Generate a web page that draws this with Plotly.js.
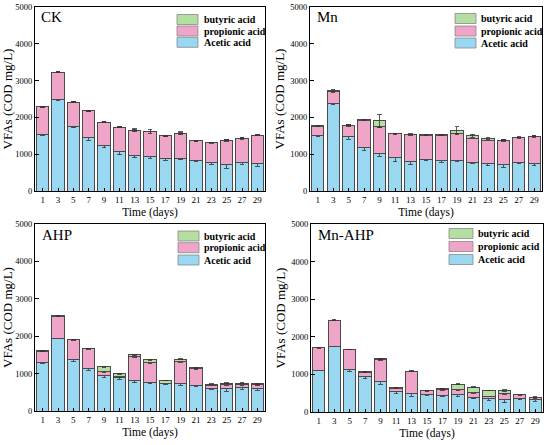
<!DOCTYPE html>
<html>
<head>
<meta charset="utf-8">
<script src="https://cdn.plot.ly/plotly-3.0.1.min.js"></script>
<style>
html,body{margin:0;padding:0;background:#fff;}
#chart{width:550px;height:445px;}
</style>
</head>
<body>
<div id="chart"></div>
<script>
// ---------- data ----------
const days = [1, 3, 5, 7, 9, 11, 13, 15, 17, 19, 21, 23, 25, 27, 29];
const seriesNames = ["Acetic acid", "propionic acid", "butyric acid"];
const panelNames = ["CK", "Mn", "AHP", "Mn-AHP"];
const yTicks = [0, 1000, 2000, 3000, 4000, 5000];

const ckAcetic    = [1540, 2490, 1765, 1455, 1240, 1070, 968, 927, 870, 895, 822, 773, 722, 766, 740];
const ckPropionic = [745, 735, 650, 728, 632, 665, 687, 688, 630, 678, 540, 543, 656, 666, 780];
const ckButyric   = [0, 0, 0, 0, 0, 0, 0, 0, 0, 0, 0, 0, 0, 0, 0];
const ckAceticErr    = [20, 20, 40, 70, 60, 90, 70, 40, 40, 40, 25, 50, 100, 40, 70];
const ckPropionicErr = [15, 10, 20, 15, 20, 20, 40, 60, 20, 40, 20, 15, 20, 25, 20];
const ckButyricErr   = [10, 10, 10, 10, 10, 10, 10, 10, 10, 10, 10, 10, 10, 10, 10];

const mnAcetic    = [1500, 2370, 1490, 1190, 1030, 900, 810, 860, 820, 840, 780, 740, 720, 770, 740];
const mnPropionic = [260, 340, 280, 730, 715, 650, 720, 660, 695, 710, 660, 640, 650, 680, 740];
const mnButyric   = [10, 20, 15, 10, 160, 10, 10, 10, 10, 100, 60, 50, 10, 10, 10];
const mnAceticErr    = [30, 20, 80, 80, 80, 100, 100, 40, 40, 30, 30, 50, 80, 30, 60];
const mnPropionicErr = [15, 20, 30, 15, 30, 20, 15, 20, 20, 20, 20, 20, 20, 15, 20];
const mnButyricErr   = [10, 15, 10, 10, 180, 10, 10, 10, 10, 100, 40, 20, 10, 10, 10];

const ahpAcetic    = [1300, 1946, 1366, 1125, 958, 893, 813, 750, 723, 723, 670, 607, 589, 616, 589];
const ahpPropionic = [298, 590, 536, 536, 87, 27, 633, 536, 18, 598, 455, 81, 116, 80, 107];
const ahpButyric   = [10, 10, 10, 10, 134, 71, 54, 80, 72, 63, 36, 26, 36, 45, 36];
const ahpAceticErr    = [20, 20, 30, 40, 60, 40, 60, 20, 20, 30, 20, 30, 60, 30, 40];
const ahpPropionicErr = [15, 15, 15, 15, 20, 15, 20, 20, 10, 20, 20, 15, 15, 15, 15];
const ahpButyricErr   = [10, 10, 10, 10, 15, 10, 20, 15, 10, 15, 15, 10, 10, 15, 10];

const mnahpAcetic    = [1116, 1750, 1125, 946, 804, 545, 482, 473, 446, 455, 393, 348, 330, 357, 321];
const mnahpPropionic = [589, 696, 536, 108, 589, 89, 607, 90, 152, 134, 125, 72, 161, 98, 54];
const mnahpButyric   = [0, 0, 0, 17, 18, 9, 0, 8, 18, 152, 143, 151, 80, 9, 18];
const mnahpAceticErr    = [20, 20, 40, 60, 70, 40, 60, 30, 40, 40, 40, 40, 80, 30, 40];
const mnahpPropionicErr = [15, 15, 10, 15, 20, 10, 25, 10, 15, 15, 15, 10, 15, 10, 10];
const mnahpButyricErr   = [0, 0, 0, 10, 15, 10, 0, 5, 10, 10, 10, 10, 15, 10, 10];

// ---------- styling ----------
const colors = ["#9ad8f2", "#efa5c7", "#b5dea2"];
const edge = "#4a4a4a";
const serif = "Liberation Serif";
const W = 550, H = 445;

// panel pixel geometry [left, right, top, bottom]
const panels = [
  {vals: [ckAcetic, ckPropionic, ckButyric], errs: [ckAceticErr, ckPropionicErr, ckButyricErr], px: [35, 265, 7, 191], leg: [142, 163, 167, 12.5, 24, 35.3], lab: [4, 10]},
  {vals: [mnAcetic, mnPropionic, mnButyric], errs: [mnAceticErr, mnPropionicErr, mnButyricErr], px: [310, 542, 7, 191], leg: [145, 166, 169, 11.5, 24, 36], lab: [5, 10]},
  {vals: [ahpAcetic, ahpPropionic, ahpButyric], errs: [ahpAceticErr, ahpPropionicErr, ahpButyricErr], px: [35, 265, 224, 411], leg: [143, 164, 167, 12, 23.7, 36], lab: [5, 11]},
  {vals: [mnahpAcetic, mnahpPropionic, mnahpButyric], errs: [mnahpAceticErr, mnahpPropionicErr, mnahpButyricErr], px: [311, 543, 224, 412], leg: [138, 162, 165, 9.5, 22.5, 35.5], lab: [5, 11]}
];

const traces = [];
const layout = {
  width: W, height: H,
  margin: {l: 0, r: 0, t: 0, b: 0},
  paper_bgcolor: "#fff", plot_bgcolor: "#fff",
  barmode: "stack",
  bargap: 0.2,
  showlegend: false,
  font: {family: serif, color: "#000"},
  shapes: [], annotations: []
};

panels.forEach((p, i) => {
  const n = i + 1;
  const xa = "x" + (n === 1 ? "" : n), ya = "y" + (n === 1 ? "" : n);
  const xk = "xaxis" + (n === 1 ? "" : n), yk = "yaxis" + (n === 1 ? "" : n);
  const [l, r, t, b] = p.px;
  const pw = r - l, ph = b - t;
  p.vals.forEach((v, s) => {
    traces.push({
      type: "bar", x: days, y: v, name: seriesNames[s],
      xaxis: xa, yaxis: ya, width: 1.6,
      marker: {color: colors[s], line: {color: edge, width: 1}},
      error_y: {type: "data", array: p.errs[s], visible: true, color: "#333", thickness: 0.8, width: 2.2},
      hoverinfo: "x+y+name"
    });
  });
  layout[xk] = {
    domain: [l / W, r / W], anchor: ya, range: [0, 30],
    tickvals: days, ticktext: days.map(String),
    ticks: "inside", ticklen: 3.5, tickwidth: 1, tickcolor: "#000",
    showline: true, linecolor: "#000", linewidth: 1, mirror: true,
    showgrid: false, zeroline: false,
    tickfont: {family: serif, size: 9, color: "#000"},
    title: {text: "Time (days)", font: {family: serif, size: 11.5, color: "#000"}, standoff: 4}
  };
  layout[yk] = {
    domain: [1 - b / H, 1 - t / H], anchor: xa, range: [0, 5000],
    tickvals: yTicks, ticktext: yTicks.map(String),
    ticks: "inside", ticklen: 3.5, tickwidth: 1, tickcolor: "#000",
    showline: true, linecolor: "#000", linewidth: 1, mirror: true,
    showgrid: false, zeroline: false,
    tickfont: {family: serif, size: 8.5, color: "#000"},
    title: {text: "VFAs (COD mg/L)", font: {family: serif, size: 13, color: "#000"}, standoff: 2}
  };
  // panel label
  layout.annotations.push({
    xref: xa + " domain", yref: ya + " domain",
    x: p.lab[0] / pw, y: 1 - p.lab[1] / ph, xanchor: "left", yanchor: "middle",
    text: panelNames[i], showarrow: false,
    font: {family: serif, size: 15, color: "#000"}
  });
  // custom legend (top to bottom: butyric, propionic, acetic)
  const [sx0, sx1, tx, r0, r1, r2] = p.leg;
  const rows = [r0, r1, r2];
  const order = [2, 1, 0];
  rows.forEach((cy, k) => {
    const s = order[k];
    layout.shapes.push({
      type: "rect", xref: xa + " domain", yref: ya + " domain",
      x0: sx0 / pw, x1: sx1 / pw, y0: 1 - (cy + 5) / ph, y1: 1 - (cy - 5) / ph,
      fillcolor: colors[s], line: {color: "#888", width: 0.8}
    });
    layout.annotations.push({
      xref: xa + " domain", yref: ya + " domain",
      x: tx / pw, y: 1 - cy / ph, xanchor: "left", yanchor: "middle",
      text: "<b>" + seriesNames[s] + "</b>", showarrow: false,
      font: {family: serif, size: 10, color: "#000"}
    });
  });
});

Plotly.newPlot("chart", traces, layout, {displayModeBar: false, staticPlot: true});
</script>
</body>
</html>
